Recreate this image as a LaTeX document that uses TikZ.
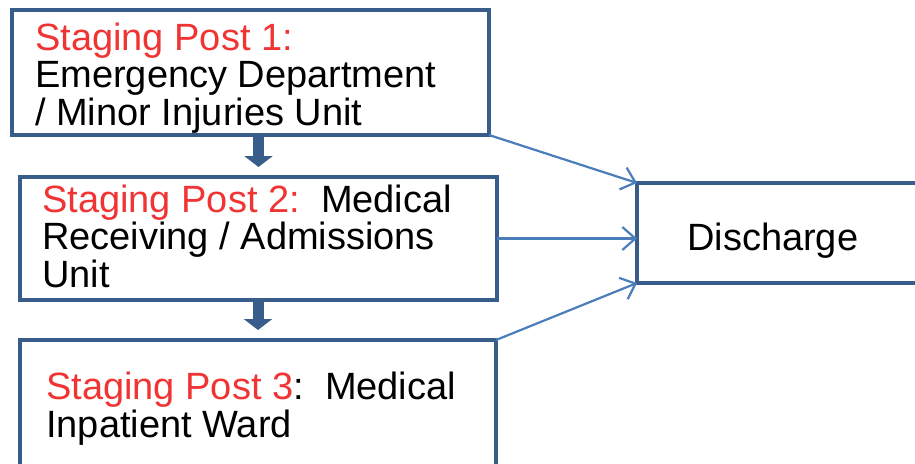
\documentclass[tikz,border=0pt]{standalone}
\usepackage{fontspec}
\setmainfont{Liberation Sans}
\usetikzlibrary{arrows.meta}
\usetikzlibrary{positioning}
\definecolor{boxblue}{RGB}{56,93,138}
\definecolor{lineblue}{RGB}{74,126,187}
\definecolor{postred}{RGB}{240,52,52}

\begin{document}
\begin{tikzpicture}[x=1pt,y=-1pt,
	post/.style={draw=boxblue,line width=4.5pt,rectangle,anchor=north west,inner sep=0pt,outer sep=0pt},
	posttext/.style={anchor=base west,align=left,inner sep=0pt,font=\fontsize{38}{37.5}\selectfont},
	thickarrow/.style={draw=boxblue,line width=11pt,-{Triangle[width=28pt,length=11pt]},shorten >=10pt},
	toexit/.style={draw=lineblue,line width=2.2pt,-{Straight Barb[length=13pt,width=23pt]}}]
	\useasboundingbox (0,0) rectangle (915,463);
	\node[post, minimum width=477pt, minimum height=125pt] (P1) at (12,10) {};
	\node[post, minimum width=477pt, minimum height=123pt] (P2) at (20,177) {};
	\node[post, minimum width=476pt, minimum height=130pt] (P3) at (20,340) {};
	\node[post, minimum width=320pt, minimum height=100pt] (D) at (637,183) {};
	\node[posttext] (T1) at (35,125) {\textcolor{postred}{Staging Post 1:}\\Emergency Department\\/ Minor Injuries Unit};
	\node[posttext] (T2) at (42,287) {\textcolor{postred}{Staging Post 2:}~~Medical\\Receiving / Admissions\\Unit};
	\node[posttext] (T3) at (46,437) {\textcolor{postred}{Staging Post 3}:~~Medical\\Inpatient Ward};
	\node[posttext] (TD) at (687,250) {Discharge};
	\draw[thickarrow] (P1.south -| P2.north) -- (P2.north);
	\draw[thickarrow] (P2.south -| P3.north) -- (P3.north);
	\path
	(P1.south east)	edge[toexit]	(D.north west)
	(P2.east)	edge[toexit]	(P2.east -| D.west)
	(P3.north east)	edge[toexit]	(D.south west);
\end{tikzpicture}
\end{document}
